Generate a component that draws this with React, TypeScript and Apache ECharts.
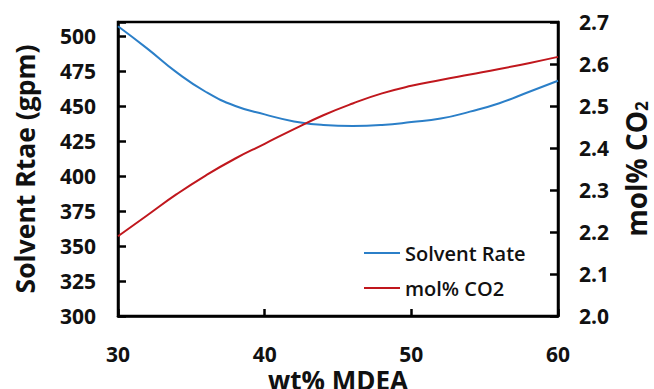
import React, { useEffect, useRef } from "react";
import * as echarts from "echarts";

const wtMDEA = [30, 32, 34, 36, 38, 40, 42, 44, 46, 48, 50, 52, 54, 56, 58, 60];
const solventRate = [507, 491, 474, 460, 450, 444, 439, 436.5, 435.8, 436.5, 438.5, 441, 446, 452, 460, 468];
const molCO2 = [2.19, 2.24, 2.29, 2.335, 2.375, 2.41, 2.445, 2.478, 2.506, 2.53, 2.548, 2.562, 2.575, 2.588, 2.602, 2.617];

const FONT = "'Open Sans', 'DejaVu Sans', sans-serif";

export default function App() {
  const ref = useRef<HTMLDivElement>(null);
  useEffect(() => {
    if (!ref.current) return;
    const chart = echarts.init(ref.current, undefined, { renderer: "svg" });
    const axisLine = { show: true, lineStyle: { color: "#000", width: 2.5 } };
    const tick = { show: true, inside: true, length: 8, lineStyle: { color: "#000", width: 2.5 } };
    const labelStyle = { color: "#111", fontFamily: FONT, fontWeight: "bold" as const, fontSize: 21 };
    chart.setOption({
      animation: false,
      backgroundColor: "#fff",
      grid: {
        left: 118,
        right: 96,
        top: 22,
        bottom: 73,
        containLabel: false,
        outerBoundsMode: "none",
        show: true,
        borderColor: "#000",
        borderWidth: 2.5,
        backgroundColor: "transparent",
      },
      legend: {
        orient: "vertical",
        left: 359,
        top: 236,
        icon: "rect",
        itemWidth: 36,
        itemHeight: 2,
        itemGap: 11,
        textStyle: { fontFamily: FONT, fontWeight: 600, fontSize: 20, color: "#111", lineHeight: 24 },
        data: ["Solvent Rate", "mol% CO2"],
      },
      xAxis: {
        type: "value",
        min: 30,
        max: 60,
        interval: 10,
        name: "wt% MDEA",
        nameLocation: "middle",
        nameGap: 51,
        nameMoveOverlap: false,
        nameTextStyle: { fontFamily: FONT, fontWeight: "bold", fontSize: 26, color: "#111", lineHeight: 26 },
        axisLine,
        axisTick: { ...tick, length: 7 },
        axisLabel: { ...labelStyle, margin: 27, lineHeight: 21 },
        splitLine: { show: false },
      },
      yAxis: [
        {
          type: "value",
          min: 300,
          max: 510,
          interval: 25,
          name: "Solvent Rtae (gpm)",
          nameLocation: "middle",
          nameGap: 80,
          nameMoveOverlap: false,
          nameTextStyle: { fontFamily: FONT, fontWeight: "bold", fontSize: 26.5, color: "#111" },
          axisLine,
          axisTick: tick,
          axisLabel: { ...labelStyle, margin: 22, formatter: (v: number) => (v > 500 ? "" : String(v)) },
          splitLine: { show: false },
        },
        {
          type: "value",
          min: 2.0,
          max: 2.7,
          interval: 0.1,
          position: "right",
          name: "{a|mol% CO}{s|2}",
          nameLocation: "middle",
          nameGap: 64,
          nameRotate: 90,
          nameMoveOverlap: false,
          nameTextStyle: {
            rich: {
              a: { fontFamily: FONT, fontWeight: "bold", fontSize: 28, color: "#111", lineHeight: 28, verticalAlign: "bottom" },
              s: { fontFamily: FONT, fontWeight: "bold", fontSize: 17, color: "#111", lineHeight: 17, verticalAlign: "bottom" },
            },
          },
          axisLine,
          axisTick: tick,
          axisLabel: { ...labelStyle, margin: 21, formatter: (v: number) => v.toFixed(1) },
          splitLine: { show: false },
        },
      ],
      series: [
        {
          name: "Solvent Rate",
          type: "line",
          yAxisIndex: 0,
          data: wtMDEA.map((x, i) => [x, solventRate[i]]),
          smooth: true,
          symbol: "none",
          lineStyle: { color: "#2B7FC8", width: 2 },
          itemStyle: { color: "#2B7FC8" },
        },
        {
          name: "mol% CO2",
          type: "line",
          yAxisIndex: 1,
          data: wtMDEA.map((x, i) => [x, molCO2[i]]),
          smooth: true,
          symbol: "none",
          lineStyle: { color: "#C0171D", width: 2 },
          itemStyle: { color: "#C0171D" },
        },
      ],
    });
    return () => chart.dispose();
  }, []);
  return <div ref={ref} style={{ width: 654, height: 389, position: "absolute", left: 0, top: 0 }} />;
}
